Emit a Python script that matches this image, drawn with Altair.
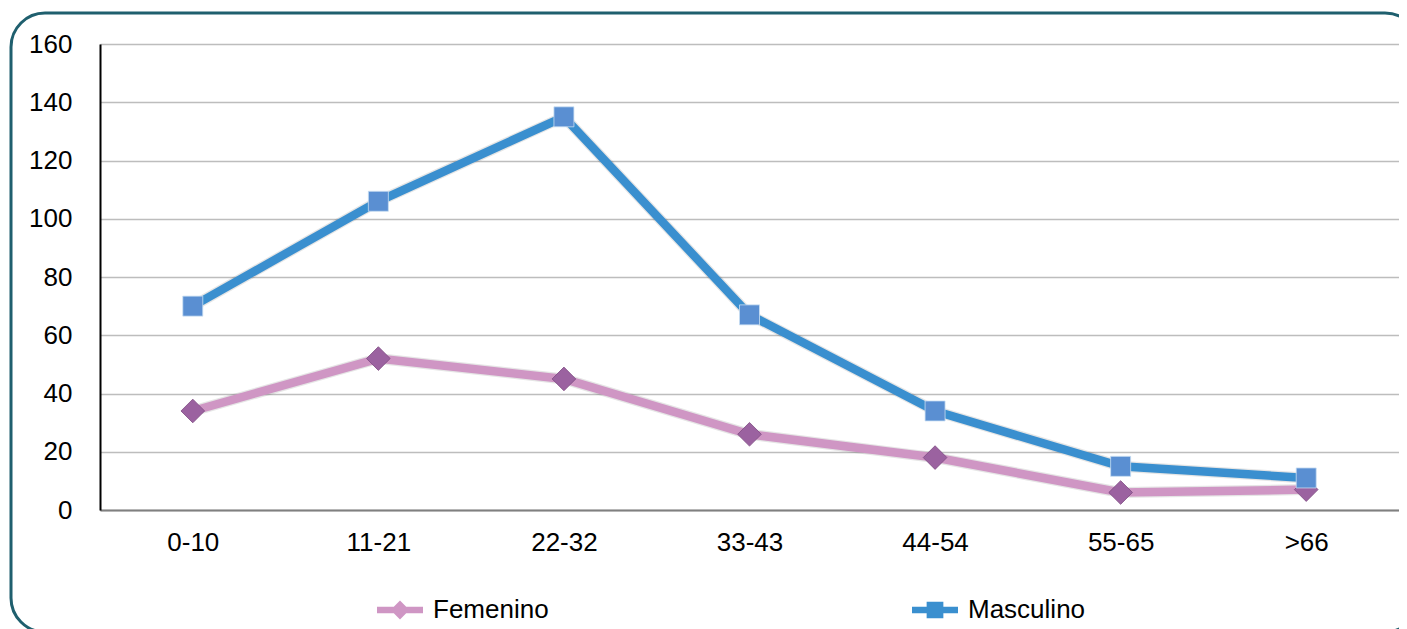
import altair as alt
import pandas as pd

categorias = ["0-10", "11-21", "22-32", "33-43", "44-54", "55-65", ">66"]
femenino = [34, 52, 45, 26, 18, 6, 7]
masculino = [70, 106, 135, 67, 34, 15, 11]
series = ["Femenino", "Masculino"]
y_ticks = [0, 20, 40, 60, 80, 100, 120, 140, 160]

rows = []
for c, f, m in zip(categorias, femenino, masculino):
    rows.append({"edad": c, "serie": "Femenino", "valor": f})
    rows.append({"edad": c, "serie": "Masculino", "valor": m})
df = pd.DataFrame(rows)

W, H = 1299, 466
FONT = "Liberation Sans"

x_enc = alt.X("edad:N", sort=categorias, title=None,
              scale=alt.Scale(paddingInner=0, paddingOuter=0.5),
              axis=alt.Axis(labelAngle=0, labelFontSize=26, labelFont=FONT, labelColor="#000",
                            labelPadding=19, ticks=False, domainColor="#808080", domainWidth=2,
                            grid=False))
y_enc = alt.Y("valor:Q", title=None,
              scale=alt.Scale(domain=[0, 160], nice=False),
              axis=alt.Axis(values=y_ticks, labelFontSize=26, labelFont=FONT, labelColor="#000",
                            labelPadding=28, ticks=False, domainColor="#000", domainWidth=2,
                            gridColor="#bdbdbd", gridWidth=1.5))

line_colors = ["#cf96c4", "#3a8fcf"]
marker_colors = ["#9b62a0", "#5a8fd2"]
marker_shapes = ["diamond", "square"]
marker_sizes = [560, 400]

frame = alt.Chart(pd.DataFrame({"k": [0]})).mark_rect(
    fill=None, stroke="#1f5f6e", strokeWidth=3, cornerRadius=34
).encode(x=alt.value(-89), x2=alt.value(W + 20), y=alt.value(-31), y2=alt.value(H + 122))

shadow = alt.Chart(df).mark_line(strokeWidth=11, color="#000", opacity=0.1).encode(
    x=x_enc, y=y_enc, detail="serie:N",
)

line_layers = []
point_layers = []
for s, lc, col, shp, sz in zip(series, line_colors, marker_colors, marker_shapes, marker_sizes):
    base = alt.Chart(df).transform_filter(alt.datum.serie == s)
    line_layers.append(base.mark_line(strokeWidth=8.5, color=lc).encode(x=x_enc, y=y_enc))
    point_layers.append(
        base.mark_point(
            filled=True, size=sz, opacity=1, shape=shp, color=col,
            stroke="#c9def3" if shp == "square" else "#7d4a82", strokeWidth=0.8,
        ).encode(x=x_enc, y=y_enc)
    )

legend_shapes = [
    "M-2.2,-0.32 L2.2,-0.32 L2.2,0.32 L-2.2,0.32 Z M0,-0.9 L0.9,0 L0,0.9 L-0.9,0 Z",
    "M-2.2,-0.32 L2.2,-0.32 L2.2,0.32 L-2.2,0.32 Z M-0.8,-0.8 L0.8,-0.8 L0.8,0.8 L-0.8,0.8 Z",
]

legend_layer = alt.Chart(df).transform_filter("false").mark_point(filled=True, size=437, opacity=1).encode(
    x=x_enc, y=y_enc,
    color=alt.Color("serie:N", scale=alt.Scale(domain=series, range=line_colors),
                    legend=alt.Legend(orient="none", legendX=287, legendY=553,
                                      direction="horizontal", title=None,
                                      labelFontSize=26, labelFont=FONT, labelColor="#000",
                                      symbolSize=437, symbolStrokeWidth=0,
                                      columnPadding=363, labelOffset=20)),
    shape=alt.Shape("serie:N", scale=alt.Scale(domain=series, range=legend_shapes)),
)

chart = alt.layer(frame, shadow, *line_layers, *point_layers, legend_layer).properties(
    width=W, height=H,
    autosize=alt.AutoSizeParams(type="none"),
    padding={"left": 92, "top": 36, "right": 0, "bottom": 119},
).configure_view(stroke=None).configure(background="#ffffff")

chart.save("out.html", embed_options={"renderer": "svg", "actions": False})
